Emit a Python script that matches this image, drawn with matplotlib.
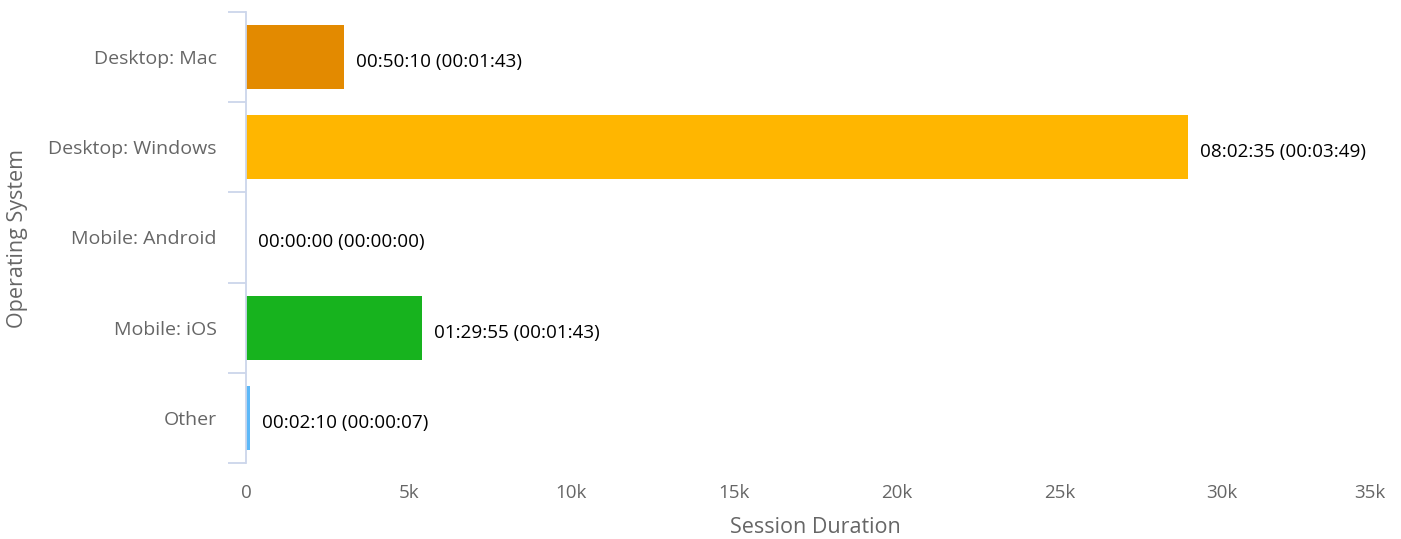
import matplotlib
matplotlib.use("Agg")
import matplotlib.pyplot as plt

categories = ["Desktop: Mac", "Desktop: Windows", "Mobile: Android", "Mobile: iOS", "Other"]
seconds = [3010, 28955, 0, 5395, 130]
labels = ["00:50:10 (00:01:43)", "08:02:35 (00:03:49)", "00:00:00 (00:00:00)",
          "01:29:55 (00:01:43)", "00:02:10 (00:00:07)"]
colors = ["#E38A00", "#FFB600", "#2F7ED8", "#17B31E", "#5CB8F8"]
xticks = [0, 5000, 10000, 15000, 20000, 25000, 30000, 35000]
xticklabels = ["0", "5k", "10k", "15k", "20k", "25k", "30k", "35k"]

plt.rcParams['font.family'] = ['Open Sans', 'DejaVu Sans']

W, H = 1401, 539
fig = plt.figure(figsize=(W / 100, H / 100), dpi=100)
L, R, T, B = 246, 1385, 12, 463
ax = fig.add_axes([L / W, (H - B) / H, (R - L) / W, (B - T) / H])

ypos = list(range(len(categories)))
ax.barh(ypos, seconds, height=0.71, color=colors, left=0, linewidth=0)
for y, v, lab in zip(ypos, seconds, labels):
    ax.annotate(lab, (v, y), xytext=(12, -5), textcoords='offset pixels',
                ha='left', va='center', fontsize=13.6, color='black')

ax.set_xlim(0, 35000)
ax.set_ylim(len(categories) - 0.5, -0.5)
ax.set_yticks(ypos)
ax.set_yticklabels(categories, fontsize=14, color='#666666', va='center_baseline')
ax.set_yticks([i - 0.5 for i in range(len(categories) + 1)], minor=True)
ax.tick_params(axis='y', which='major', length=0, pad=21)
ax.tick_params(axis='y', which='minor', length=13, width=1.3, color='#CCD6EB')
ax.set_xticks(xticks)
ax.set_xticklabels(xticklabels, fontsize=13.5, color='#666666')
ax.tick_params(axis='x', length=0, pad=15)
ax.get_xticklabels()[-1].set_horizontalalignment('right')

for s in ['top', 'right', 'bottom']:
    ax.spines[s].set_visible(False)
ax.spines['left'].set_color('#CCD6EB')
ax.spines['left'].set_linewidth(1.3)

fig.text(815 / W, (H - 533) / H, "Session Duration", fontsize=15.5,
         color='#666666', ha='center', va='baseline')
fig.text(18 / W, (H - 238) / H, "Operating System", fontsize=15.5,
         color='#666666', ha='center', va='center', rotation=90)

fig.savefig("out.png", dpi=100, facecolor='white')
